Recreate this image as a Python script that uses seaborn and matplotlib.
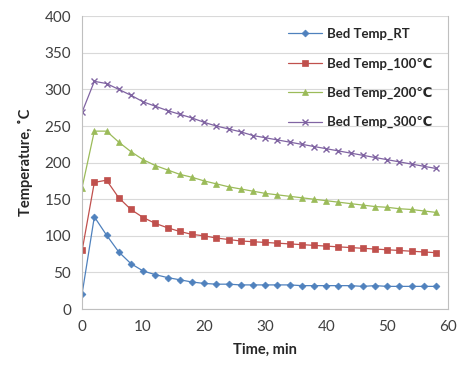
import pandas as pd
import matplotlib
matplotlib.use('Agg')
import matplotlib.pyplot as plt
import seaborn as sns

# Time points (min)
time = list(range(0, 60, 2))

# Bed temperature curves
temp_rt = [21, 126, 101, 78, 62, 52, 47, 43, 40, 37, 35, 34, 34, 33, 33,
           33, 33, 33, 32, 32, 32, 32, 32, 31, 32, 31, 31, 31, 31, 31]
temp_100 = [80, 173, 176, 152, 136, 125, 117, 111, 106, 102, 100, 97, 95, 93, 92,
            91, 90, 89, 88, 87, 86, 85, 84, 83, 82, 81, 80, 79, 78, 77]
temp_200 = [166, 243, 243, 228, 215, 204, 196, 190, 184, 180, 175, 171, 167, 164, 161,
            158, 156, 154, 152, 150, 148, 146, 144, 142, 140, 139, 137, 136, 134, 132]
temp_300 = [269, 311, 308, 300, 292, 283, 277, 271, 266, 261, 255, 250, 246, 242, 237,
            234, 231, 228, 225, 222, 219, 216, 213, 210, 207, 204, 201, 198, 195, 192]

series = ['Bed Temp_RT', 'Bed Temp_100\u2103', 'Bed Temp_200\u2103', 'Bed Temp_300\u2103']
colors = ['#4F81BD', '#C0504D', '#9BBB59', '#8064A2']
markers = ['D', 's', '^', 'x']
sizes = [3.5, 5, 4.5, 4.5]

frames = []
for name, vals in zip(series, [temp_rt, temp_100, temp_200, temp_300]):
    frames.append(pd.DataFrame({'Time': time, 'Temp': vals, 'Series': name}))
df = pd.concat(frames, ignore_index=True)

sns.set_style('white')
plt.rcParams['font.family'] = ['Lato', 'DejaVu Sans']

fig = plt.figure(figsize=(4.64, 3.76), dpi=100)
ax = fig.add_axes([0.177, 0.178, 0.789, 0.779])

for name, c, m, s in zip(series, colors, markers, sizes):
    sns.lineplot(data=df[df['Series'] == name], x='Time', y='Temp', ax=ax,
                 color=c, marker=m, markersize=s, markeredgecolor=c,
                 markeredgewidth=1.0 if m == 'x' else 0.5,
                 linewidth=0.9, label=name)

ax.set_xlim(0, 60)
ax.set_ylim(0, 400)
ax.set_xticks(range(0, 61, 10))
ax.set_yticks(range(0, 401, 50))
ax.yaxis.grid(True, color='#D9D9D9', linewidth=0.8)
ax.set_axisbelow(True)
for side in ['left', 'bottom', 'right']:
    ax.spines[side].set_color('#BFBFBF')
ax.spines['top'].set_visible(False)
ax.tick_params(axis='x', direction='in', length=4, color='#BFBFBF',
               labelsize=11, labelcolor='#404040', pad=8)
ax.tick_params(axis='y', direction='out', length=4, color='#BFBFBF',
               labelsize=11, labelcolor='#404040', pad=4)

ax.set_xlabel('Time, min', fontsize=10.5, fontweight='bold', labelpad=6)
ax.set_ylabel('Temperature, \u02daC', fontsize=10.5, fontweight='bold', labelpad=8)

ax.legend(loc='upper right', bbox_to_anchor=(0.99, 1.0), frameon=False,
          prop={'weight': 'bold', 'size': 9.5}, handlelength=2.6,
          labelspacing=1.3, handletextpad=0.4)

fig.savefig('out.png', dpi=100)
